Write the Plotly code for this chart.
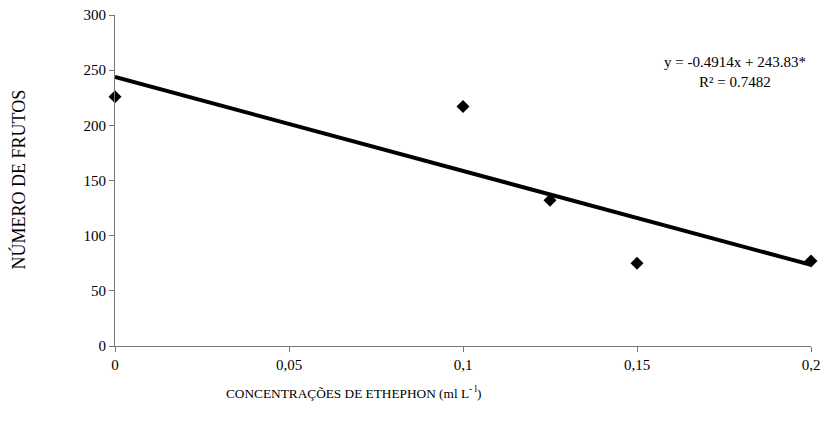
import plotly.graph_objects as go

# Data
conc = [0, 0.1, 0.125, 0.15, 0.2]
frutos = [226, 217, 132, 75, 77]
trend_x = [0, 0.2]
trend_y = [243.83, 73.5]
x_ticks = [0, 0.05, 0.1, 0.15, 0.2]
x_tick_labels = ["0", "0,05", "0,1", "0,15", "0,2"]
y_ticks = [0, 50, 100, 150, 200, 250, 300]

W, H = 822, 429
L, R, T, B = 115, 11, 15, 83
FONT = "Liberation Serif, Times New Roman, serif"

fig = go.Figure()
fig.add_trace(go.Scatter(x=trend_x, y=trend_y, mode="lines",
                         line=dict(color="black", width=4),
                         cliponaxis=False, showlegend=False))
fig.add_trace(go.Scatter(x=conc, y=frutos, mode="markers",
                         marker=dict(symbol="diamond", size=10, color="black"),
                         cliponaxis=False, showlegend=False))

fig.update_layout(
    width=W, height=H,
    margin=dict(l=L, r=R, t=T, b=B, autoexpand=False),
    paper_bgcolor="white", plot_bgcolor="white",
    font=dict(family=FONT, size=15, color="black"),
    xaxis=dict(range=[0, 0.2], tickvals=x_ticks, ticktext=x_tick_labels,
               showgrid=False, zeroline=False, showline=True, automargin=False,
               linecolor="#777777", linewidth=1, ticks="outside",
               ticklen=5, tickcolor="#777777", fixedrange=True,
               tickfont=dict(family=FONT, size=15)),
    yaxis=dict(range=[0, 300], tickvals=y_ticks, automargin=False,
               showgrid=False, zeroline=False, showline=True,
               linecolor="#777777", linewidth=1, ticks="outside",
               ticklen=5, tickcolor="#777777", fixedrange=True,
               tickfont=dict(family=FONT, size=15)),
)

pw = W - L - R
ph = H - T - B

def px_x(p):
    return (p - L) / pw

def px_y(p):
    return (H - B - p) / ph

fig.add_annotation(x=px_x(17.5), y=px_y(180), xref="paper", yref="paper",
                   xanchor="center", yanchor="middle",
                   text="NÚMERO DE FRUTOS", textangle=-90, showarrow=False,
                   font=dict(family=FONT, size=18))
fig.add_annotation(x=px_x(354), y=px_y(392), xref="paper", yref="paper",
                   xanchor="center", yanchor="middle",
                   text="CONCENTRAÇÕES DE ETHEPHON (ml L<sup>- l</sup>)",
                   showarrow=False, font=dict(family=FONT, size=13.3))
fig.add_annotation(x=px_x(735), y=px_y(72), xref="paper", yref="paper",
                   xanchor="center", yanchor="middle",
                   text="y = -0.4914x + 243.83*<br>R² = 0.7482",
                   showarrow=False, align="center", font=dict(family=FONT, size=15))

fig.write_html("out.html")
